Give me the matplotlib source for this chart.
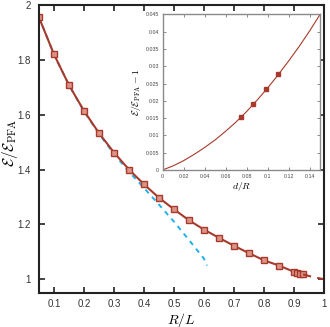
import matplotlib
matplotlib.use("Agg")
import matplotlib.pyplot as plt

plt.rcParams['font.family'] = ['Liberation Sans', 'DejaVu Sans']
plt.rcParams['mathtext.fontset'] = 'cm'

# main curve: E/E_PFA against R/L
rl = [0.05, 0.10, 0.15, 0.20, 0.25, 0.30, 0.35, 0.40, 0.45, 0.50, 0.55, 0.60,
      0.65, 0.70, 0.75, 0.80, 0.85, 0.90, 0.91, 0.92, 0.93]
ratio = [1.955, 1.820, 1.708, 1.614, 1.533, 1.462, 1.400, 1.346, 1.297, 1.255,
         1.215, 1.181, 1.151, 1.122, 1.095, 1.069, 1.050, 1.027, 1.024, 1.021, 1.018]
# extrapolation to R/L = 1
rl_ext = [0.93, 0.96, 1.00]
ratio_ext = [1.018, 1.009, 1.000]
# small-distance expansion (blue dashed)
rl_pfa = [0.05, 0.10, 0.15, 0.20, 0.25, 0.30, 0.35, 0.40, 0.45, 0.50, 0.55, 0.60, 0.61]
ratio_pfa = [1.955, 1.820, 1.708, 1.612, 1.530, 1.457, 1.392, 1.333, 1.272, 1.210,
             1.143, 1.075, 1.050]

# inset: E/E_PFA - 1 against d/R
dr = [0.00, 0.01, 0.02, 0.03, 0.04, 0.05, 0.06, 0.07, 0.08, 0.09, 0.10, 0.11,
      0.12, 0.13, 0.14, 0.15]
dev = [0.0, 0.0012, 0.0027, 0.0045, 0.0065, 0.0087, 0.0112, 0.0139, 0.0169,
       0.0202, 0.0237, 0.0275, 0.0315, 0.0357, 0.0402, 0.0450]
dr_pts = [0.0748, 0.0860, 0.0983, 0.1095]
dev_pts = [0.0154, 0.0191, 0.0233, 0.0277]

red = '#a83a2c'

fig = plt.figure(figsize=(3.30, 3.27), dpi=100)
ax = fig.add_axes([0.118, 0.104, 0.864, 0.881])

ax.plot(rl_pfa, ratio_pfa, color='#1fb0ea', lw=1.4, ls=(0, (2.5, 2.5)), zorder=1)
ax.plot(rl, ratio, color=red, lw=1.5, marker='s', ms=5,
        mfc='#dc9488', mec=red, mew=1.0, zorder=2)
ax.plot(rl_ext, ratio_ext, color=red, lw=1.5, ls=(0, (4, 3)), zorder=2)

ax.set_xlim(0.05, 1.0)
ax.set_ylim(0.95, 2.0)
ax.set_xticks([0.1, 0.2, 0.3, 0.4, 0.5, 0.6, 0.7, 0.8, 0.9, 1.0])
ax.set_xticklabels(['0.1', '0.2', '0.3', '0.4', '0.5', '0.6', '0.7', '0.8', '0.9', '1'])
ax.set_yticks([1.0, 1.2, 1.4, 1.6, 1.8, 2.0])
ax.set_yticklabels(['1', '1.2', '1.4', '1.6', '1.8', '2'])
ax.tick_params(direction='in', top=True, right=True, length=4, width=1.2,
               labelsize=7, pad=6, color='#222222', labelcolor='#333333')
ax.tick_params(axis='x', pad=4.5)
for s in ax.spines.values():
    s.set_linewidth(1.5)
    s.set_color('#222222')
ax.set_xlabel(r'$R/L$', fontsize=10)
ax.xaxis.set_label_coords(0.5, -0.061)
ax.set_ylabel(r'$\mathcal{E}/\mathcal{E}_{\rm PFA}$', fontsize=11)
ax.yaxis.set_label_coords(-0.066, 0.52)

# inset
ins = fig.add_axes([0.4925, 0.480, 0.4775, 0.476])
ins.plot(dr, dev, color=red, lw=0.8)
ins.plot(dr_pts, dev_pts, ls='none', marker='s', ms=2.2, mfc=red, mec=red)
ins.set_xlim(0, 0.15)
ins.set_ylim(0, 0.045)
ins.set_xticks([0, 0.02, 0.04, 0.06, 0.08, 0.1, 0.12, 0.14])
ins.set_xticklabels(['0', '0.02', '0.04', '0.06', '0.08', '0.1', '0.12', '0.14'])
ins.set_yticks([0, 0.005, 0.01, 0.015, 0.02, 0.025, 0.03, 0.035, 0.04, 0.045])
ins.set_yticklabels(['0', '0.005', '0.01', '0.015', '0.02', '0.025', '0.03',
                     '0.035', '0.04', '0.045'])
ins.tick_params(direction='in', top=True, right=True, length=2, width=0.6,
                labelsize=3.8, pad=2.5, color='#777777', labelcolor='#444444')
for s in ins.spines.values():
    s.set_linewidth(1.0)
    s.set_color('#8a8a8a')
ins.set_xlabel(r'$d/R$', fontsize=7, labelpad=1)
ins.set_ylabel(r'$\mathcal{E}/\mathcal{E}_{\rm PFA}-1$', fontsize=7, labelpad=2)

fig.savefig('out.png', dpi=100)
